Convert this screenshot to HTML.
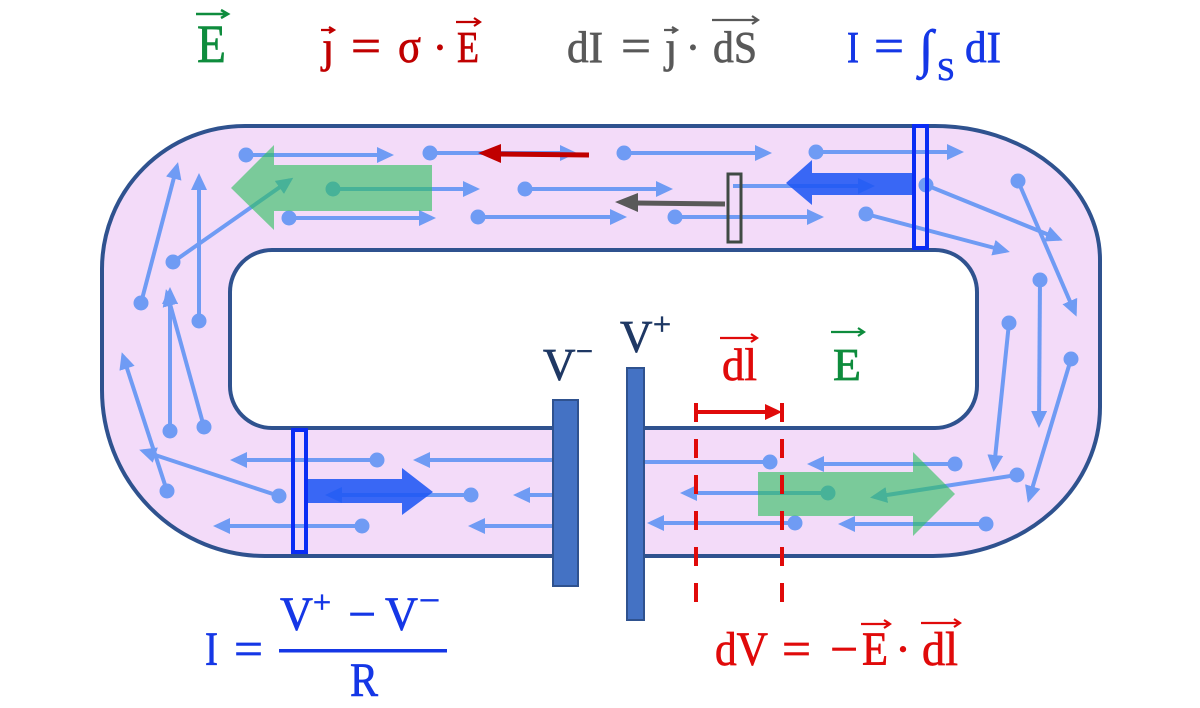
<!DOCTYPE html>
<html><head><meta charset="utf-8"><style>
html,body{margin:0;padding:0;background:#fff;}
svg{display:block;}
text{font-family:"Liberation Serif","DejaVu Serif",serif;stroke-width:0.7;}
</style></head><body>
<svg width="1200" height="708" viewBox="0 0 1200 708" xmlns="http://www.w3.org/2000/svg">
<defs>
<marker id="bh" markerUnits="userSpaceOnUse" markerWidth="18" markerHeight="16" refX="13" refY="8" orient="auto"><path d="M0,0 L17,8 L0,16 z" fill="#6f9bf4"/></marker>
</defs>
<rect width="1200" height="708" fill="#fff"/>

<!-- ring -->
<path fill-rule="evenodd" fill="#f3dbf9" stroke="#2f528f" stroke-width="4" d="M245,126 L935,126 A165,134 0 0 1 1100,260 L1100,407 A167,149 0 0 1 933,556 L265,556 A163,166 0 0 1 102,390 L102,269 A143,143 0 0 1 245,126 Z M272,250 L935,250 A42,42 0 0 1 977,292 L977,386 A42,42 0 0 1 935,428 L272,428 A42,42 0 0 1 230,386 L230,292 A42,42 0 0 1 272,250 Z"/>
<rect x="578" y="422" width="49" height="140" fill="#fff"/>

<!-- thin blue arrows -->
<g stroke="#6f9bf4" stroke-width="4" fill="none" marker-end="url(#bh)">
<line x1="246" y1="155" x2="390" y2="155"/>
<line x1="430" y1="153" x2="573" y2="153"/>
<line x1="624" y1="153" x2="768" y2="153"/>
<line x1="333" y1="189" x2="476" y2="189"/>
<line x1="525" y1="189" x2="669" y2="189"/>
<line x1="733" y1="186" x2="871" y2="186"/>
<line x1="289" y1="218" x2="432" y2="218"/>
<line x1="478" y1="217" x2="623" y2="217"/>
<line x1="675" y1="217" x2="820" y2="217"/>
<line x1="816" y1="152" x2="960" y2="152"/>
<line x1="926" y1="185" x2="1059" y2="239"/>
<line x1="866" y1="214" x2="1006" y2="251"/>
<line x1="1018" y1="181" x2="1075" y2="313"/>
<line x1="1040" y1="280" x2="1039" y2="424"/>
<line x1="1009" y1="323" x2="994" y2="468"/>
<line x1="1071" y1="359" x2="1029" y2="499"/>
<line x1="1017" y1="475" x2="874" y2="497"/>
<line x1="955" y1="464" x2="811" y2="464"/>
<line x1="986" y1="524" x2="842" y2="524"/>
<line x1="770" y1="462" x2="644" y2="462" marker-end="none"/>
<line x1="828" y1="493" x2="684" y2="493"/>
<line x1="795" y1="523" x2="651" y2="523"/>
<line x1="377" y1="460" x2="234" y2="460"/>
<line x1="556" y1="460" x2="417" y2="460"/>
<line x1="471" y1="495" x2="329" y2="495"/>
<line x1="553" y1="495" x2="517" y2="495"/>
<line x1="362" y1="526" x2="217" y2="526"/>
<line x1="553" y1="526" x2="472" y2="526"/>
<line x1="279" y1="496" x2="143" y2="451"/>
<line x1="167" y1="491" x2="123" y2="356"/>
<line x1="170" y1="431" x2="170" y2="291"/>
<line x1="204" y1="427" x2="167" y2="293"/>
<line x1="141" y1="303" x2="177" y2="166"/>
<line x1="199" y1="321" x2="199" y2="177"/>
<line x1="173" y1="262" x2="290" y2="180"/>
</g>
<g fill="#6f9bf4">
<circle cx="246" cy="155" r="7.5"/><circle cx="430" cy="153" r="7.5"/><circle cx="624" cy="153" r="7.5"/>
<circle cx="333" cy="189" r="7.5"/><circle cx="525" cy="189" r="7.5"/>
<circle cx="289" cy="218" r="7.5"/><circle cx="478" cy="217" r="7.5"/><circle cx="675" cy="217" r="7.5"/>
<circle cx="816" cy="152" r="7.5"/><circle cx="926" cy="185" r="7.5"/><circle cx="866" cy="214" r="7.5"/>
<circle cx="1018" cy="181" r="7.5"/><circle cx="1040" cy="280" r="7.5"/><circle cx="1009" cy="323" r="7.5"/>
<circle cx="1071" cy="359" r="7.5"/><circle cx="1017" cy="475" r="7.5"/><circle cx="955" cy="464" r="7.5"/>
<circle cx="986" cy="524" r="7.5"/><circle cx="770" cy="462" r="7.5"/><circle cx="828" cy="493" r="7.5"/>
<circle cx="795" cy="523" r="7.5"/><circle cx="377" cy="460" r="7.5"/><circle cx="471" cy="495" r="7.5"/>
<circle cx="362" cy="526" r="7.5"/><circle cx="279" cy="496" r="7.5"/><circle cx="167" cy="491" r="7.5"/>
<circle cx="170" cy="431" r="7.5"/><circle cx="204" cy="427" r="7.5"/><circle cx="141" cy="303" r="7.5"/>
<circle cx="199" cy="321" r="7.5"/><circle cx="173" cy="262" r="7.5"/>
</g>

<!-- green E-field arrows -->
<polygon points="231,188 274,145 274,165 432,165 432,211 274,211 274,230" fill="#2fc060" fill-opacity="0.62"/>
<polygon points="955,494 913,452 913,472 758,472 758,516 913,516 913,536" fill="#2fc060" fill-opacity="0.62"/>

<!-- big blue current arrows -->
<polygon points="786,183 812,160 812,173 915,173 915,195 812,195 812,205" fill="#1f56f4" fill-opacity="0.88"/>
<polygon points="433,492 402,468 402,479 307,479 307,503 402,503 402,515" fill="#1f56f4" fill-opacity="0.88"/>

<!-- cross-section rects -->
<rect x="914" y="126" width="13" height="122" fill="none" stroke="#0a2cf4" stroke-width="4"/>
<rect x="293" y="430" width="13" height="122" fill="none" stroke="#0a2cf4" stroke-width="4"/>
<rect x="728" y="174" width="13" height="68" fill="none" stroke="#3f4a44" stroke-width="3"/>

<!-- red j arrow -->
<line x1="589" y1="155" x2="498" y2="154" stroke="#c00000" stroke-width="5"/>
<polygon points="478,153 501,144 501,163" fill="#c00000"/>
<!-- gray dS arrow -->
<line x1="725" y1="204" x2="634" y2="203" stroke="#595959" stroke-width="5"/>
<polygon points="615,202 638,193 638,212" fill="#595959"/>

<!-- battery plates -->
<rect x="553" y="400" width="25" height="186" fill="#4472c4" stroke="#2f528f" stroke-width="2"/>
<rect x="627" y="368" width="17" height="252" fill="#4472c4" stroke="#2f528f" stroke-width="2"/>

<!-- red dl dimension -->
<line x1="696" y1="412" x2="770" y2="412" stroke="#e00a0a" stroke-width="4"/>
<polygon points="782,412 765,404 765,420" fill="#e00a0a"/>
<line x1="696" y1="403" x2="696" y2="602" stroke="#e00a0a" stroke-width="4" stroke-dasharray="19 17"/>
<line x1="782" y1="403" x2="782" y2="602" stroke="#e00a0a" stroke-width="4" stroke-dasharray="19 17"/>

<!-- header text -->
<text x="197" y="62" font-size="54" fill="#0e8c3d" stroke="#0e8c3d" textLength="29" lengthAdjust="spacingAndGlyphs">E</text>
<path d="M196,14 H228 M221,10 L228,14 L221,18" stroke="#0e8c3d" stroke-width="2.5" fill="none"/>

<g fill="#c00000" stroke="#c00000" font-size="44">
<text x="322" y="62">ȷ</text>
<text x="351" y="62" font-size="48" textLength="30" lengthAdjust="spacingAndGlyphs">=</text>
<text x="398" y="62" font-size="48" textLength="23" lengthAdjust="spacingAndGlyphs">σ</text>
<text x="440" y="62" text-anchor="middle">·</text>
<text x="457" y="62" textLength="22" lengthAdjust="spacingAndGlyphs">E</text>
</g>
<path d="M321,30 H334 M329,27 L334,30 L329,33 M456,22 H480 M474,18 L480,22 L474,26" stroke="#c00000" stroke-width="2.2" fill="none"/>

<g fill="#595959" stroke="#595959" font-size="44">
<text x="567" y="62" textLength="36" lengthAdjust="spacingAndGlyphs">dI</text>
<text x="621" y="62" font-size="48" textLength="30" lengthAdjust="spacingAndGlyphs">=</text>
<text x="665" y="62">ȷ</text>
<text x="693" y="62" text-anchor="middle">·</text>
<text x="713" y="62" textLength="44" lengthAdjust="spacingAndGlyphs">dS</text>
</g>
<path d="M664,30 H677 M672,27 L677,30 L672,33 M712,20 H758 M752,16 L758,20 L752,24" stroke="#595959" stroke-width="2.2" fill="none"/>

<g fill="#1537e6" stroke="#1537e6" font-size="44">
<text x="847" y="62" textLength="12" lengthAdjust="spacingAndGlyphs">I</text>
<text x="874" y="62" font-size="48" textLength="30" lengthAdjust="spacingAndGlyphs">=</text>
<text x="919" y="66" font-size="52">∫</text>
<text x="937" y="80" font-size="32">S</text>
<text x="965" y="62" textLength="36" lengthAdjust="spacingAndGlyphs">dI</text>
</g>

<!-- middle labels -->
<g fill="#1f3864" stroke="#1f3864">
<text x="543" y="380" font-size="45">V</text>
<text x="576" y="361" font-size="30">−</text>
<text x="620" y="352" font-size="45">V</text>
<text x="653" y="335" font-size="32">+</text>
</g>
<text x="722" y="380" font-size="45" fill="#e00a0a" stroke="#e00a0a" textLength="35" lengthAdjust="spacingAndGlyphs">dl</text>
<path d="M720,338 H757 M751,334 L757,338 L751,342" stroke="#e00a0a" stroke-width="2.2" fill="none"/>
<text x="833" y="380" font-size="45" fill="#0e8c3d" stroke="#0e8c3d" textLength="28" lengthAdjust="spacingAndGlyphs">E</text>
<path d="M831,332 H864 M858,328 L864,332 L858,336" stroke="#0e8c3d" stroke-width="2.2" fill="none"/>

<!-- bottom-left formula -->
<g fill="#1537e6" stroke="#1537e6" font-size="48">
<text x="205" y="665" textLength="13" lengthAdjust="spacingAndGlyphs">I</text>
<text x="234" y="665" textLength="29" lengthAdjust="spacingAndGlyphs">=</text>
<rect x="279" y="649" width="168" height="3.5" stroke="none"/>
<text x="280" y="630" textLength="33" lengthAdjust="spacingAndGlyphs">V</text>
<text x="313" y="613" font-size="32">+</text>
<text x="348" y="630" textLength="28" lengthAdjust="spacingAndGlyphs">−</text>
<text x="385" y="630" textLength="33" lengthAdjust="spacingAndGlyphs">V</text>
<text x="419" y="611" font-size="32" textLength="21" lengthAdjust="spacingAndGlyphs">−</text>
<text x="350" y="696" textLength="28" lengthAdjust="spacingAndGlyphs">R</text>
</g>

<!-- bottom-right formula -->
<g fill="#e00a0a" stroke="#e00a0a" font-size="48">
<text x="715" y="665" textLength="53" lengthAdjust="spacingAndGlyphs">dV</text>
<text x="782" y="665" textLength="29" lengthAdjust="spacingAndGlyphs">=</text>
<text x="830" y="665" textLength="28" lengthAdjust="spacingAndGlyphs">−</text>
<text x="862" y="665" textLength="26" lengthAdjust="spacingAndGlyphs">E</text>
<text x="903" y="665" text-anchor="middle">·</text>
<text x="922" y="665" textLength="36" lengthAdjust="spacingAndGlyphs">dl</text>
</g>
<path d="M861,624 H890 M884,620 L890,624 L884,628 M921,623 H960 M954,619 L960,623 L954,627" stroke="#e00a0a" stroke-width="2.2" fill="none"/>
</svg>
</body></html>
